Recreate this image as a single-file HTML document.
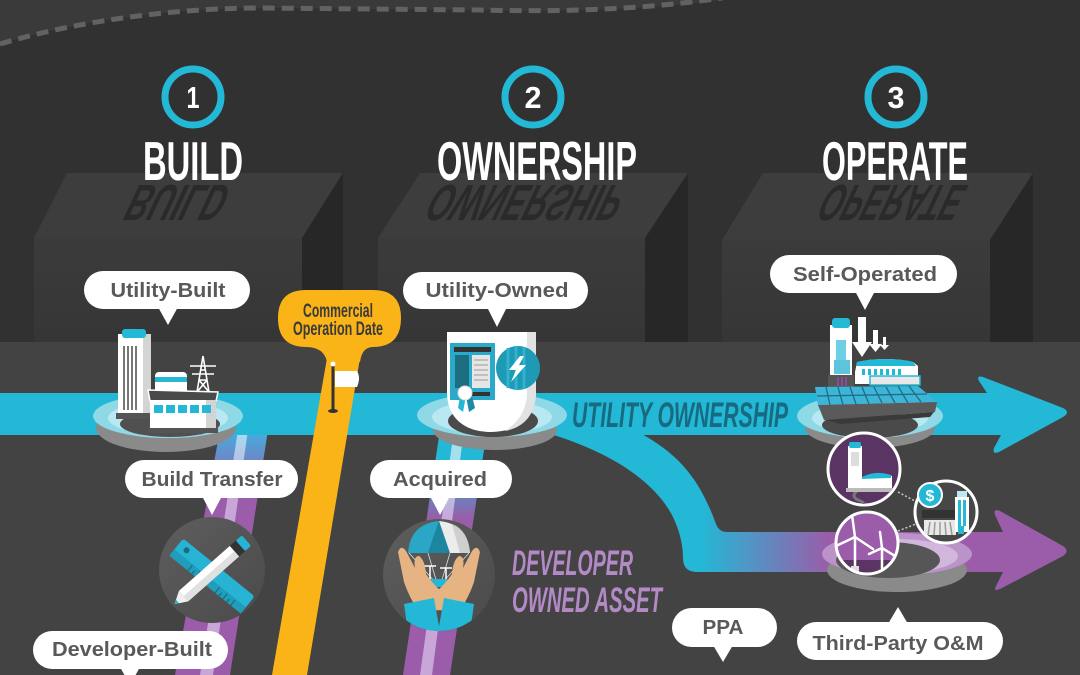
<!DOCTYPE html>
<html><head><meta charset="utf-8">
<style>
html,body{margin:0;padding:0;background:#313131;}
svg{display:block;}
text{font-family:"Liberation Sans",sans-serif;}
</style></head><body>
<svg width="1080" height="675" viewBox="0 0 1080 675" xmlns="http://www.w3.org/2000/svg">
<defs>
 <linearGradient id="gCurve" x1="700" y1="0" x2="830" y2="0" gradientUnits="userSpaceOnUse">
  <stop offset="0" stop-color="#23b8d6"/><stop offset="1" stop-color="#9b5ca9"/>
 </linearGradient>
 <linearGradient id="gRoadA" x1="0" y1="435" x2="0" y2="492" gradientUnits="userSpaceOnUse">
  <stop offset="0" stop-color="#49a9dc"/><stop offset="1" stop-color="#9b5ca9"/>
 </linearGradient>
 <linearGradient id="gStripeA" x1="0" y1="435" x2="0" y2="492" gradientUnits="userSpaceOnUse">
  <stop offset="0" stop-color="#a8d8f0"/><stop offset="1" stop-color="#c9a6d8"/>
 </linearGradient>
 <linearGradient id="gRoadB" x1="0" y1="462" x2="0" y2="520" gradientUnits="userSpaceOnUse">
  <stop offset="0" stop-color="#23b8d6"/><stop offset="1" stop-color="#9b5ca9"/>
 </linearGradient>
 <linearGradient id="gStripeB" x1="0" y1="462" x2="0" y2="520" gradientUnits="userSpaceOnUse">
  <stop offset="0" stop-color="#a6e0ee"/><stop offset="1" stop-color="#c9a6d8"/>
 </linearGradient>
 <linearGradient id="gFront" x1="0" y1="0" x2="0" y2="1">
  <stop offset="0" stop-color="#3b3b3b"/><stop offset="1" stop-color="#363636"/>
 </linearGradient>
 <linearGradient id="gDisc" x1="0" y1="0" x2="1" y2="1">
  <stop offset="0" stop-color="#5e5e5e"/><stop offset="1" stop-color="#4a4a4a"/>
 </linearGradient>
 <clipPath id="cA"><circle cx="439" cy="575" r="56"/></clipPath>
 <clipPath id="cW"><circle cx="867" cy="543" r="31"/></clipPath>
 <clipPath id="c1"><circle cx="864" cy="469" r="35"/></clipPath>
 <clipPath id="c3"><circle cx="946" cy="512" r="30"/></clipPath>
</defs>

<!-- background -->
<rect x="0" y="0" width="1080" height="675" fill="#313131"/>
<path d="M0,0 L722,0 C640,10 560,12 480,10 L260,8 C180,8 80,20 0,44 Z" fill="#3a3a3a"/>
<path d="M0,44 C80,20 180,8 260,8 L480,10 C560,12 640,10 722,-2" fill="none" stroke="#626262" stroke-width="5" stroke-dasharray="12 7"/>

<!-- boxes -->
<polygon points="67,173 343,173 302,238 34,238" fill="#3d3d3d"/>
<polygon points="302,238 343,173 343,342 302,342" fill="#272727"/>
<rect x="34" y="238" width="268" height="104" fill="url(#gFront)"/>

<polygon points="420,173 688,173 645,238 378,238" fill="#3d3d3d"/>
<polygon points="645,238 688,173 688,342 645,342" fill="#272727"/>
<rect x="378" y="238" width="267" height="104" fill="url(#gFront)"/>

<polygon points="763,173 1033,173 990,240 722,240" fill="#3d3d3d"/>
<polygon points="990,240 1033,173 1033,342 990,342" fill="#272727"/>
<rect x="722" y="240" width="268" height="102" fill="url(#gFront)"/>

<!-- reflections -->
<g fill="#2a2a2a" font-weight="bold" font-size="51">
 <text transform="translate(137,185) skewX(-25) scale(1,-1)" x="0" y="0" textLength="97" lengthAdjust="spacingAndGlyphs">BUILD</text>
 <text transform="translate(438,185) skewX(-25) scale(1,-1)" x="0" y="0" textLength="192" lengthAdjust="spacingAndGlyphs">OWNERSHIP</text>
 <text transform="translate(830,185) skewX(-25) scale(1,-1)" x="0" y="0" textLength="140" lengthAdjust="spacingAndGlyphs">OPERATE</text>
</g>

<!-- number circles & titles -->
<g fill="none" stroke="#23b8d6" stroke-width="7">
 <circle cx="193" cy="97" r="28"/>
 <circle cx="533" cy="97" r="28"/>
 <circle cx="896" cy="97" r="28"/>
</g>
<g fill="#fff" font-weight="bold" font-size="31" text-anchor="middle">
 <text x="193" y="108" textLength="13" lengthAdjust="spacingAndGlyphs">1</text>
 <text x="533" y="108" textLength="17" lengthAdjust="spacingAndGlyphs">2</text>
 <text x="896" y="108" textLength="17" lengthAdjust="spacingAndGlyphs">3</text>
</g>
<g fill="#fff" font-weight="bold" font-size="55">
 <text x="143" y="180" textLength="100" lengthAdjust="spacingAndGlyphs">BUILD</text>
 <text x="437" y="180" textLength="200" lengthAdjust="spacingAndGlyphs">OWNERSHIP</text>
 <text x="822" y="180" textLength="146" lengthAdjust="spacingAndGlyphs">OPERATE</text>
</g>

<!-- lower region -->
<rect x="0" y="342" width="1080" height="333" fill="#434343"/>

<!-- purple roads -->
<polygon points="220,430 268,430 230,675 175,675" fill="url(#gRoadA)"/>
<polygon points="238,430 248,430 213,675 200,675" fill="url(#gStripeA)"/>
<polygon points="440,430 487,430 450,675 403,675" fill="url(#gRoadB)"/>
<polygon points="454,430 464,430 432,675 420,675" fill="url(#gStripeB)"/>

<!-- cyan main band with arrow -->
<path d="M0,393 L987,393 L979,381 Q976,375 983,377 L1063,408 Q1071,412 1063,417 L999,452 Q992,455 994,448 L1001,435 L0,435 Z" fill="#23b8d6"/>
<!-- curve to purple band -->
<path d="M540,430 L547,433 C605,450 652,478 672,515 C681,533 683,548 683,558 Q683,572 697,572 L1003,572 L996,586 Q993,592 1000,589 L1063,556 Q1070,551 1063,546 L1000,511 Q993,508 995,515 L1003,532 L727,532 Q719,532 716,524 C700,480 680,455 640,433 L645,430 Z" fill="url(#gCurve)"/>

<text x="572" y="427" font-size="35" font-weight="bold" font-style="italic" fill="#176a80" textLength="216" lengthAdjust="spacingAndGlyphs">UTILITY OWNERSHIP</text>

<!-- yellow COD road -->
<polygon points="327,358 360,358 307,675 272,675" fill="#fbb417"/>
<path d="M306,290 L373,290 Q401,290 401,318 Q401,347 373,347 Q362,347 360,362 L327,362 Q324,347 306,347 Q278,347 278,318 Q278,290 306,290 Z" fill="#fbb417"/>
<g fill="#3a3a3a" font-weight="bold" font-size="19" text-anchor="middle">
 <text x="338" y="317" textLength="70" lengthAdjust="spacingAndGlyphs">Commercial</text>
 <text x="338" y="335" textLength="90" lengthAdjust="spacingAndGlyphs">Operation Date</text>
</g>
<line x1="333" y1="364" x2="333" y2="410" stroke="#333" stroke-width="3"/>
<ellipse cx="333" cy="411" rx="5" ry="2" fill="#333"/>
<circle cx="333" cy="364" r="2.5" fill="#fff"/>
<path d="M335,371 L357,371 Q361,378 357,387 L335,387 Z" fill="#fff"/>

<!-- Utility-Built platform -->
<ellipse cx="166" cy="428" rx="70" ry="24" fill="#8a8a8a"/>
<ellipse cx="168" cy="416" rx="75" ry="22" fill="#8fd8e6"/>
<ellipse cx="168" cy="418" rx="60" ry="17" fill="#b8e8f1"/>
<ellipse cx="170" cy="424" rx="50" ry="13" fill="#505050"/>
<!-- tower -->
<rect x="118" y="334" width="33" height="82" fill="#fff"/>
<rect x="143" y="334" width="8" height="82" fill="#d4d4d4"/>
<rect x="122" y="329" width="24" height="9" rx="3" fill="#23b8d6"/>
<g stroke="#555" stroke-width="1.6">
 <line x1="124" y1="346" x2="124" y2="410"/><line x1="128" y1="346" x2="128" y2="410"/>
 <line x1="132" y1="346" x2="132" y2="410"/><line x1="136" y1="346" x2="136" y2="410"/>
</g>
<rect x="116" y="413" width="38" height="6" fill="#555"/>
<!-- tank -->
<rect x="155" y="372" width="32" height="26" rx="4" fill="#fff"/>
<rect x="155" y="377" width="32" height="5" fill="#23b8d6"/>
<!-- pylon -->
<g stroke="#fff" stroke-width="1.6" fill="none">
 <path d="M197,392 L203,356 L209,392 M199,380 L207,380 M200,370 L206,370 M190,366 L216,366 M192,374 L214,374 M199,380 L209,392 M207,380 L197,392"/>
</g>
<!-- low building -->
<polygon points="148,390 218,392 216,401 150,401" fill="#4a4a4a" stroke="#fff" stroke-width="1.5"/>
<rect x="150" y="400" width="66" height="29" fill="#fff"/>
<rect x="206" y="400" width="10" height="29" fill="#d4d4d4"/>
<g fill="#23b8d6">
 <rect x="154" y="405" width="9" height="8"/><rect x="166" y="405" width="9" height="8"/>
 <rect x="178" y="405" width="9" height="8"/><rect x="190" y="405" width="9" height="8"/>
 <rect x="202" y="405" width="9" height="8"/>
</g>
<rect x="148" y="428" width="70" height="5" fill="#555"/>

<!-- Utility-Owned platform -->
<ellipse cx="495" cy="430" rx="62" ry="20" fill="#8a8a8a"/>
<ellipse cx="492" cy="415" rx="75" ry="22" fill="#8fd8e6"/>
<ellipse cx="492" cy="417" rx="60" ry="17" fill="#b8e8f1"/>
<ellipse cx="493" cy="421" rx="45" ry="16" fill="#4a4a4a"/>
<path d="M447,332 L536,332 L536,392 C536,420 515,432 491,432 C467,432 447,420 447,392 Z" fill="#fff"/>
<path d="M527,332 L536,332 L536,392 C536,416 522,428 505,431 C522,420 527,405 527,392 Z" fill="#e2e2e2"/>
<rect x="450" y="343" width="45" height="57" fill="#2aa9c9"/>
<rect x="454" y="347" width="37" height="5" fill="#333"/>
<rect x="455" y="355" width="14" height="33" fill="#1d6d80"/>
<rect x="472" y="355" width="18" height="33" fill="#e6e6e6"/>
<g stroke="#999" stroke-width="1"><line x1="474" y1="360" x2="488" y2="360"/><line x1="474" y1="365" x2="488" y2="365"/><line x1="474" y1="370" x2="488" y2="370"/><line x1="474" y1="375" x2="488" y2="375"/><line x1="474" y1="380" x2="488" y2="380"/></g>
<rect x="472" y="392" width="18" height="4" fill="#333"/>
<polygon points="460,396 466,396 463,412 458,408" fill="#23b8d6"/>
<polygon points="466,396 472,396 475,408 469,412" fill="#1d8aa6"/>
<circle cx="465" cy="393" r="7" fill="#fff" stroke="#ddd" stroke-width="1"/>
<circle cx="518" cy="368" r="22" fill="#1e9ab5"/>
<g stroke="#2fb3cf" stroke-width="3"><line x1="508" y1="348" x2="508" y2="388"/><line x1="516" y1="346" x2="516" y2="390"/><line x1="524" y1="347" x2="524" y2="389"/></g>
<polygon points="520,356 509,370 516,370 511,382 526,365 519,365 524,356" fill="#fff"/>

<!-- Self-Operated platform -->
<ellipse cx="870" cy="428" rx="65" ry="20" fill="#8a8a8a"/>
<ellipse cx="870" cy="416" rx="73" ry="22" fill="#8fd8e6"/>
<ellipse cx="870" cy="418" rx="58" ry="16" fill="#b8e8f1"/>
<ellipse cx="870" cy="425" rx="48" ry="13" fill="#4a4a4a"/>
<rect x="830" y="325" width="22" height="52" fill="#fff"/>
<rect x="832" y="318" width="18" height="10" rx="3" fill="#23b8d6"/>
<rect x="836" y="340" width="10" height="20" fill="#6fd0e4"/>
<rect x="834" y="360" width="16" height="14" fill="#5ec4dc"/>
<rect x="828" y="375" width="26" height="12" fill="#555"/>
<g fill="#8b4a9c"><rect x="837" y="377" width="2" height="9"/><rect x="841" y="377" width="2" height="9"/><rect x="845" y="377" width="2" height="9"/></g>
<path d="M855,372 L857,362 Q885,356 913,362 L918,366 L918,384 L855,384 Z" fill="#fff"/>
<path d="M857,362 Q885,356 913,362 L916,366 L856,366 Z" fill="#23b8d6"/>
<g fill="#23b8d6"><rect x="862" y="369" width="3" height="6"/><rect x="868" y="369" width="3" height="6"/><rect x="874" y="369" width="3" height="6"/><rect x="880" y="369" width="3" height="6"/><rect x="886" y="369" width="3" height="6"/><rect x="892" y="369" width="3" height="6"/><rect x="898" y="369" width="3" height="6"/></g>
<rect x="870" y="376" width="50" height="9" fill="#e8e8e8" stroke="#23b8d6" stroke-width="1.5"/>
<polygon points="815,387 918,386 937,402 818,405" fill="#3db5d8"/>
<g stroke="#1f6d82" stroke-width="1.3">
 <line x1="826" y1="387" x2="830" y2="405"/><line x1="838" y1="387" x2="843" y2="405"/><line x1="850" y1="387" x2="856" y2="404"/>
 <line x1="862" y1="387" x2="869" y2="404"/><line x1="874" y1="387" x2="882" y2="403"/><line x1="886" y1="387" x2="895" y2="403"/>
 <line x1="898" y1="386" x2="908" y2="403"/><line x1="909" y1="386" x2="921" y2="402"/><line x1="817" y1="396" x2="927" y2="394"/>
</g>
<polygon points="818,405 937,402 935,412 824,420" fill="#5a5a5a"/>
<polygon points="826,420 934,412 930,417 840,424" fill="#3a3a3a"/>
<g fill="#fff">
 <rect x="858" y="317" width="8" height="26"/><polygon points="852,342 872,342 862,357"/>
 <rect x="873" y="330" width="5" height="14"/><polygon points="869,344 882,344 875.5,352"/>
 <rect x="883" y="337" width="3" height="8"/><polygon points="880,345 889,345 884.5,350"/>
</g>

<!-- Operate: ring under wind circle -->
<ellipse cx="897" cy="570" rx="70" ry="22" fill="#8a8a8a"/>
<ellipse cx="897" cy="554" rx="75" ry="21" fill="#bc93c9"/>
<ellipse cx="897" cy="556" rx="61" ry="17" fill="#d2b7dc"/>
<ellipse cx="888" cy="560" rx="52" ry="18" fill="#565656"/>

<!-- dotted connectors -->
<g stroke="#c8c8c8" stroke-width="1.5" stroke-dasharray="2 2">
 <line x1="898" y1="492" x2="915" y2="501"/>
 <line x1="898" y1="531" x2="916" y2="524"/>
</g>

<!-- circle 1 -->
<circle cx="864" cy="469" r="36" fill="#5a3462" stroke="#fff" stroke-width="3"/>
<g clip-path="url(#c1)">
 <path d="M858,490 Q850,496 858,500 Q868,503 860,508" stroke="#777" stroke-width="3" fill="none"/>
 <rect x="848" y="446" width="14" height="44" fill="#fff"/>
 <rect x="849" y="442" width="12" height="6" rx="2" fill="#23b8d6"/>
 <rect x="851" y="452" width="8" height="14" fill="#ddd"/>
 <path d="M860,478 Q876,471 892,476 L892,490 L860,490 Z" fill="#fff"/>
 <path d="M862,477 Q876,470 891,475 L891,478 L862,479 Z" fill="#23b8d6"/>
 <rect x="846" y="488" width="50" height="4" fill="#bbb"/>
</g>
<!-- circle 2 wind -->
<g clip-path="url(#cW)">
 <rect x="834" y="510" width="66" height="70" fill="#9b5ca9"/>
 <rect x="834" y="560" width="66" height="20" fill="#5a3462"/>
 <g stroke="#fff" stroke-width="2.5" stroke-linecap="round">
  <line x1="855" y1="537" x2="855" y2="570"/>
  <line x1="855" y1="537" x2="852" y2="515"/><line x1="855" y1="537" x2="836" y2="546"/><line x1="855" y1="537" x2="873" y2="549"/>
  <line x1="882" y1="548" x2="882" y2="568"/>
  <line x1="882" y1="548" x2="880" y2="532"/><line x1="882" y1="548" x2="869" y2="554"/><line x1="882" y1="548" x2="895" y2="556"/>
 </g>
 <rect x="851" y="566" width="8" height="6" fill="#ddd"/>
</g>
<circle cx="867" cy="543" r="31" fill="none" stroke="#fff" stroke-width="3"/>
<!-- circle 3 money -->
<circle cx="946" cy="512" r="31" fill="#474747" stroke="#fff" stroke-width="3"/>
<g clip-path="url(#c3)">
 <rect x="922" y="510" width="36" height="8" fill="#333"/>
 <path d="M924,520 L956,520 L956,535 L924,535 Z" fill="#e8e8e8"/>
 <g stroke="#999" stroke-width="1.5"><line x1="930" y1="522" x2="928" y2="535"/><line x1="935" y1="522" x2="934" y2="535"/><line x1="940" y1="522" x2="940" y2="535"/><line x1="945" y1="522" x2="946" y2="535"/><line x1="950" y1="522" x2="952" y2="535"/></g>
 <rect x="955" y="497" width="14" height="35" fill="#fff"/>
 <rect x="958" y="500" width="3" height="26" fill="#23b8d6"/><rect x="963" y="500" width="3" height="26" fill="#23b8d6"/>
 <rect x="957" y="491" width="10" height="6" fill="#bfe9f2"/>
 <rect x="958" y="526" width="6" height="8" fill="#23b8d6"/>
</g>
<circle cx="930" cy="495" r="12" fill="#23b8d6" stroke="#fff" stroke-width="2"/>
<text x="930" y="501" font-size="16" font-weight="bold" fill="#fff" text-anchor="middle">$</text>

<!-- Build Transfer circle -->
<circle cx="212" cy="570" r="53" fill="url(#gDisc)"/>
<g transform="rotate(39 212 576)">
 <rect x="166" y="565" width="92" height="22" rx="3" fill="#27b3d3"/>
 <rect x="166" y="579" width="92" height="8" fill="#1f9dbb"/>
 <circle cx="176" cy="572" r="3" fill="#1a6c80"/>
 <g stroke="#1a6c80" stroke-width="1.2">
  <line x1="190" y1="580" x2="190" y2="587"/><line x1="195" y1="583" x2="195" y2="587"/><line x1="200" y1="580" x2="200" y2="587"/>
  <line x1="225" y1="580" x2="225" y2="587"/><line x1="230" y1="583" x2="230" y2="587"/><line x1="235" y1="580" x2="235" y2="587"/>
  <line x1="240" y1="583" x2="240" y2="587"/><line x1="245" y1="580" x2="245" y2="587"/>
 </g>
</g>
<g transform="rotate(-41.5 212 571)">
 <rect x="174" y="564" width="68" height="14" fill="#fff"/>
 <rect x="174" y="571" width="68" height="7" fill="#e0e0e0"/>
 <polygon points="174,564 174,578 162,571" fill="#f0f0f0"/>
 <polygon points="166,568.7 166,573.3 162,571" fill="#23b8d6"/>
 <rect x="242" y="564" width="8" height="14" fill="#333"/>
 <rect x="250" y="564" width="8" height="14" rx="2" fill="#27b3d3"/>
</g>

<!-- Acquired circle -->
<circle cx="439" cy="575" r="56" fill="url(#gDisc)"/>
<g clip-path="url(#cA)">
 <g stroke="#ddd" stroke-width="0.8">
  <line x1="409" y1="553" x2="436" y2="583"/><line x1="428" y1="553" x2="437" y2="583"/>
  <line x1="450" y1="553" x2="441" y2="583"/><line x1="469" y1="553" x2="442" y2="583"/>
 </g>
 <path d="M408,553 Q410,524 439,521 L428,553 Z" fill="#2aa6c6"/>
 <path d="M428,553 L439,521 L450,553 Z" fill="#1c86a1"/>
 <path d="M450,553 L439,521 Q468,524 470,553 Z" fill="#ececec"/>
 <path d="M460,553 L452,524 Q468,530 470,553 Z" fill="#cfcfcf"/>
 <g stroke="#fff" stroke-width="1.5">
  <line x1="430" y1="566" x2="430" y2="582"/><line x1="424" y1="566" x2="436" y2="566"/>
  <line x1="446" y1="568" x2="446" y2="582"/><line x1="440" y1="568" x2="452" y2="568"/>
 </g>
 <ellipse cx="439" cy="583" rx="20" ry="4" fill="#23b8d6"/>
 <path d="M398,552 Q401,544 406,551 L415,568 Q413,556 419,556 Q425,560 426,574 Q433,584 440,590 L440,610 L419,612 Q409,597 404,582 Z" fill="#e6b382"/>
 <path d="M480,552 Q477,544 472,551 L463,568 Q465,556 459,556 Q453,560 452,574 Q445,584 438,590 L438,610 L459,612 Q469,597 474,582 Z" fill="#e6b382"/>
 <polygon points="404,604 434,598 440,632 408,632" fill="#23b8d6"/>
 <polygon points="474,604 444,598 438,632 470,632" fill="#23b8d6"/>
</g>

<!-- Developer owned asset -->
<g fill="#b48ac6" font-weight="bold" font-style="italic" font-size="35">
 <text x="512" y="575" textLength="121" lengthAdjust="spacingAndGlyphs">DEVELOPER</text>
 <text x="512" y="612" textLength="150" lengthAdjust="spacingAndGlyphs">OWNED ASSET</text>
</g>

<!-- speech bubbles -->
<g fill="#fff">
 <rect x="84" y="271" width="166" height="38" rx="19"/><polygon points="158,307 178,307 168,325"/>
 <rect x="403" y="272" width="185" height="37" rx="18.5"/><polygon points="487,307 507,307 497,327"/>
 <rect x="770" y="255" width="187" height="38" rx="19"/><polygon points="855,291 875,291 865,310"/>
 <rect x="125" y="460" width="173" height="38" rx="19"/><polygon points="202,496 222,496 212,515"/>
 <rect x="33" y="631" width="195" height="38" rx="19"/><polygon points="120,667 140,667 130,685"/>
 <rect x="370" y="460" width="142" height="38" rx="19"/><polygon points="430,496 450,496 440,515"/>
 <rect x="672" y="608" width="105" height="39" rx="19.5"/><polygon points="713,645 733,645 723,662"/>
 <rect x="797" y="622" width="206" height="38" rx="19"/><polygon points="888,624 908,624 898,607"/>
</g>
<g fill="#595959" font-weight="bold" font-size="20.5" text-anchor="middle">
 <text x="168" y="297" textLength="115" lengthAdjust="spacingAndGlyphs">Utility-Built</text>
 <text x="497" y="297" textLength="143" lengthAdjust="spacingAndGlyphs">Utility-Owned</text>
 <text x="865" y="281" textLength="144" lengthAdjust="spacingAndGlyphs">Self-Operated</text>
 <text x="212" y="486" textLength="141" lengthAdjust="spacingAndGlyphs">Build Transfer</text>
 <text x="132" y="656" textLength="160" lengthAdjust="spacingAndGlyphs">Developer-Built</text>
 <text x="440" y="486" textLength="94" lengthAdjust="spacingAndGlyphs">Acquired</text>
 <text x="723" y="634" textLength="41" lengthAdjust="spacingAndGlyphs">PPA</text>
 <text x="898" y="650" textLength="171" lengthAdjust="spacingAndGlyphs">Third-Party O&amp;M</text>
</g>
</svg>
</body></html>
